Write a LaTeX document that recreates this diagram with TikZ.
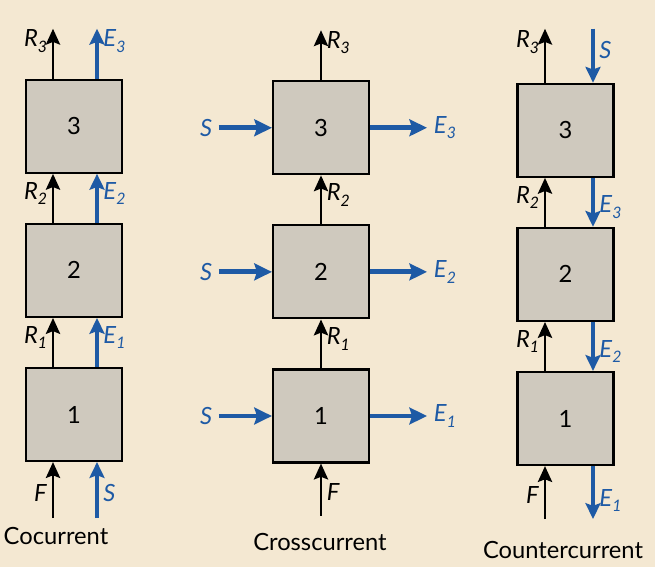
\documentclass[tikz,border=0pt]{standalone}
\usepackage{fontspec}
\setmainfont{Lato}
\usetikzlibrary{arrows.meta,positioning}
\definecolor{pagecream}{HTML}{F4E8D2}
\definecolor{stagegrey}{HTML}{CFC9BE}
\definecolor{solvblue}{HTML}{1E5AA5}
\newcommand\stlab[2]{\textit{#1}\raisebox{-.45ex}{\small\itshape #2}}

\begin{document}
\begin{tikzpicture}[
      stage/.style={draw,line width=1.2pt,fill=stagegrey,minimum width=1.92cm,minimum height=1.86cm,inner sep=0pt,font=\fontsize{13.5}{15}\selectfont},
      rflow/.style={-{Stealth[length=9pt,width=8pt,inset=1.5pt]},line width=1.7pt},
      eflow/.style={-{Stealth[length=9pt,width=8.5pt,inset=1.5pt]},line width=2.3pt,solvblue},
      sflow/.style={-{Stealth[length=10pt,width=9.5pt,inset=1.5pt]},line width=2.8pt,solvblue},
      lab/.style={font=\fontsize{13.5}{15}\selectfont,inner sep=2.5pt},
      elab/.style={lab,text=solvblue},
      title/.style={font=\fontsize{13.5}{16}\selectfont}]
    \fill[pagecream] (0,0) rectangle (13.1,11.34);
    \useasboundingbox (0,0) rectangle (13.1,11.34);
    % cocurrent
    \begin{scope}[shift={(1.48,0.03)}]
      \node[stage] (co1) at (0,3.02) {1};
      \node[stage,above=0.98cm of co1] (co2) {2};
      \node[stage,above=0.98cm of co2] (co3) {3};
      \foreach \i/\j in {1/2,2/3} {
        \draw[rflow] ([xshift=-.42cm]co\i.north) -- ([xshift=-.42cm]co\j.south) node[lab,left,pos=.6] {\stlab{R}{\i}};
        \draw[eflow] ([xshift=.46cm]co\i.north) -- ([xshift=.46cm]co\j.south) node[elab,right,pos=.6] {\stlab{E}{\i}};
      }
      \coordinate (coRout) at ([xshift=-.42cm,yshift=1cm]co3.north);
      \coordinate (coEout) at ([xshift=.46cm,yshift=1cm]co3.north);
      \coordinate (coF) at ([xshift=-.42cm,yshift=-1.12cm]co1.south);
      \coordinate (coS) at ([xshift=.46cm,yshift=-1.12cm]co1.south);
      \draw[rflow] (co3.north -| coRout) -- (coRout) node[lab,left,pos=.75] {\stlab{R}{3}};
      \draw[eflow] (co3.north -| coEout) -- (coEout) node[elab,right,pos=.75] {\stlab{E}{3}};
      \draw[rflow] (coF) -- (coF |- co1.south) node[lab,left,pos=.45] {\textit{F}};
      \draw[eflow] (coS) -- (coS |- co1.south) node[elab,right,pos=.45] {\textit{S}};
      \node[title] (cotitle) at (-0.36,0.58) {Cocurrent};
    \end{scope}
    % crosscurrent
    \begin{scope}[shift={(6.42,0)}]
      \node[stage] (cr1) at (0,3.02) {1};
      \node[stage,above=0.98cm of cr1] (cr2) {2};
      \node[stage,above=0.98cm of cr2] (cr3) {3};
      \foreach \i/\j in {1/2,2/3} {
        \draw[rflow] (cr\i.north) -- (cr\j.south) node[lab,right,pos=.6] {\stlab{R}{\i}};
      }
      \foreach \i in {1,2,3} {
        \coordinate (crS\i) at ([xshift=-1.06cm]cr\i.west);
        \coordinate (crE\i) at ([xshift=1.14cm]cr\i.east);
        \draw[sflow] (crS\i) -- (cr\i.west) node[elab,left,pos=0] {\textit{S}};
        \draw[sflow] (cr\i.east) -- (crE\i) node[elab,right,pos=1] {\stlab{E}{\i}};
      }
      \coordinate (crRout) at ([yshift=1cm]cr3.north);
      \coordinate (crF) at ([yshift=-1.04cm]cr1.south);
      \draw[rflow] (cr3.north) -- (crRout) node[lab,right,pos=.75] {\stlab{R}{3}};
      \draw[rflow] (crF) -- (cr1.south) node[lab,right,pos=.45] {\textit{F}};
      \node[title] (crtitle) at (-0.02,0.5) {Crosscurrent};
    \end{scope}
    % countercurrent
    \begin{scope}[shift={(11.31,-0.05)}]
      \node[stage] (ct1) at (0,3.02) {1};
      \node[stage,above=0.98cm of ct1] (ct2) {2};
      \node[stage,above=0.98cm of ct2] (ct3) {3};
      \foreach \i/\j in {1/2,2/3} {
        \draw[rflow] ([xshift=-.41cm]ct\i.north) -- ([xshift=-.41cm]ct\j.south) node[lab,left,pos=.6] {\stlab{R}{\i}};
        \draw[eflow] ([xshift=.55cm]ct\j.south) -- ([xshift=.55cm]ct\i.north) node[elab,right,pos=.6] {\stlab{E}{\j}};
      }
      \coordinate (ctRout) at ([xshift=-.41cm,yshift=1.08cm]ct3.north);
      \coordinate (ctS) at ([xshift=.55cm,yshift=1.08cm]ct3.north);
      \coordinate (ctF) at ([xshift=-.41cm,yshift=-1.06cm]ct1.south);
      \coordinate (ctEout) at ([xshift=.55cm,yshift=-1.06cm]ct1.south);
      \draw[rflow] (ct3.north -| ctRout) -- (ctRout) node[lab,left,pos=.75] {\stlab{R}{3}};
      \draw[eflow] (ctS) -- (ctS |- ct3.north) node[elab,right,pos=.4] {\textit{S}};
      \draw[rflow] (ctF) -- (ctF |- ct1.south) node[lab,left,pos=.45] {\textit{F}};
      \draw[eflow] (ct1.south -| ctEout) -- (ctEout) node[elab,right,pos=.65] {\stlab{E}{1}};
      \node[title] (cttitle) at (-0.05,0.39) {Countercurrent};
    \end{scope}
  \end{tikzpicture}
\end{document}
